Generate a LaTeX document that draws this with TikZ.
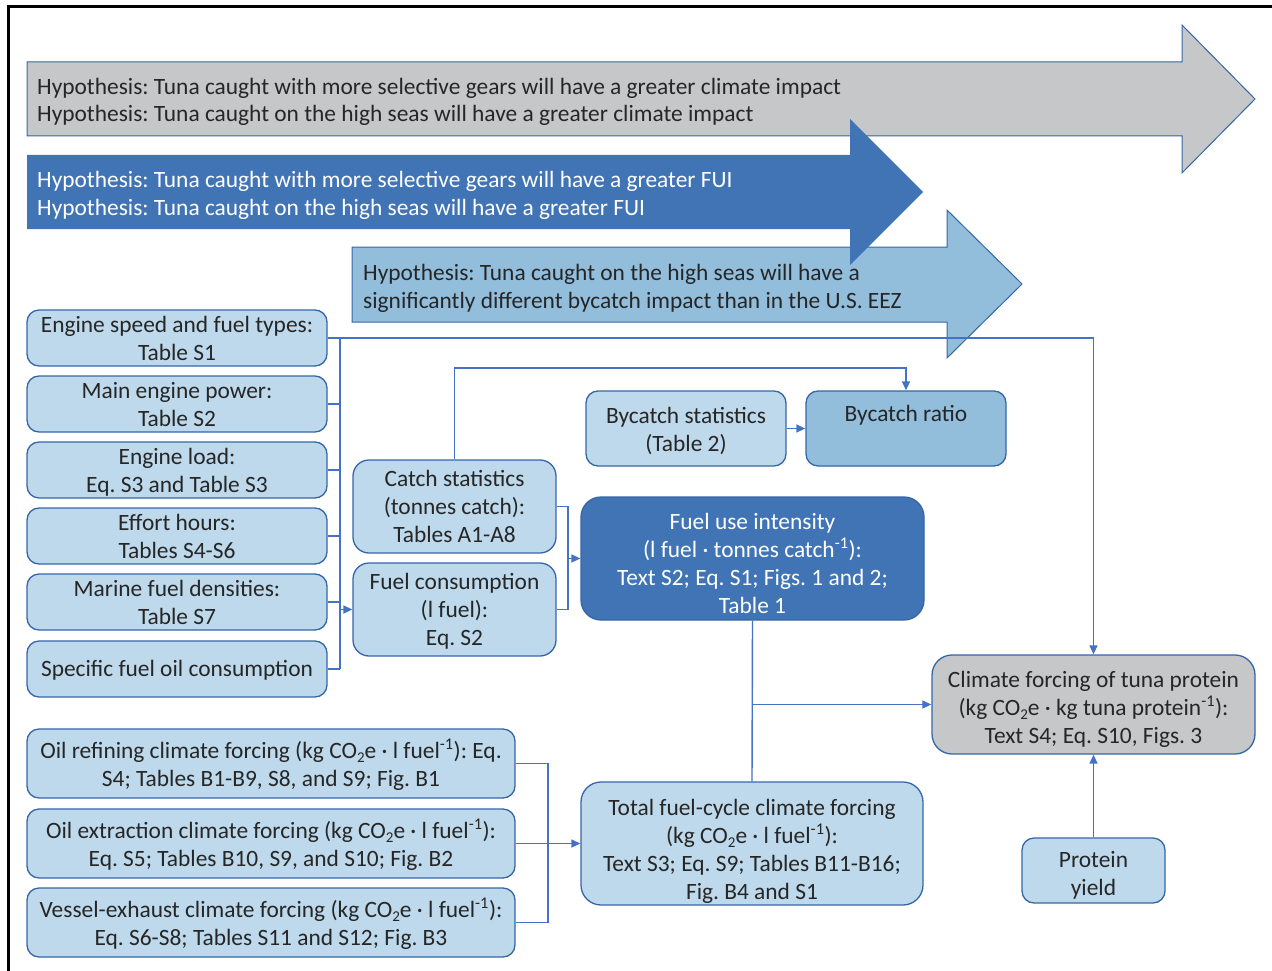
\documentclass[tikz,border=0pt]{standalone}
\usepackage{fontspec}
\setmainfont{Carlito}
\frenchspacing
\usetikzlibrary{arrows.meta,calc}
\definecolor{grayfill}{HTML}{C6C7C9}
\definecolor{darkblue}{HTML}{4174B5}
\definecolor{midblue}{HTML}{92BEDC}
\definecolor{lightfill}{HTML}{BDD9EB}
\definecolor{boxline}{HTML}{3566A8}
\definecolor{connline}{HTML}{4472C4}
\definecolor{txt}{HTML}{262626}
% text with fixed top height (#1) and bottom depth (#2)
\newcommand\sx[3]{\rule{0pt}{#1pt}#3\rule[-#2pt]{0pt}{#2pt}}
\newcommand\co{CO\raisebox{-4pt}{\fontsize{15}{15}\selectfont 2}e}
\tikzset{
  box/.style={draw=boxline, fill=lightfill, rounded corners=12pt, line width=1.3pt,
    align=center, inner sep=0pt, text=txt, font=\fontsize{23.4}{28}\selectfont},
  bigbox/.style={box, rounded corners=20pt},
  conn/.style={draw=connline, line width=1.4pt},
  tip/.style={-{Triangle[length=9pt,width=8pt]}},
  arrowshape/.style={draw=boxline, line width=1pt},
  hyp/.style={anchor=west, align=left, inner sep=0pt, font=\fontsize{23.4}{28}\selectfont}
}
\begin{document}
\begin{tikzpicture}[x=1pt,y=-1pt]
\useasboundingbox (0,0) rectangle (1272,971);
% frame
\draw[line width=3pt] (8,971) -- (8,7) -- (1272,7);

% gray arrow
\filldraw[arrowshape, fill=grayfill] (27,62) -- (1182,62) -- (1182,25) -- (1255,99) -- (1182,173) -- (1182,136) -- (27,136) -- cycle;
\node[hyp, text=txt] (h1) at (37,99.5) {\sx{25}{8}{Hypothesis: Tuna caught with more selective gears will have a greater climate impact\\Hypothesis: Tuna caught on the high seas will have a greater climate impact}};
% light blue arrow
\filldraw[arrowshape, fill=midblue] (352,247) -- (947,247) -- (947,210) -- (1022,284) -- (947,358) -- (947,322) -- (352,322) -- cycle;
\node[hyp, text=txt] (h3) at (363,285.5) {\sx{25}{8}{Hypothesis: Tuna caught on the high seas will have a\\significantly different bycatch impact than in the U.S. EEZ}};
% dark blue arrow
\fill[darkblue] (27,155) -- (850,155) -- (850,119) -- (923,192) -- (850,265) -- (850,229) -- (27,229) -- cycle;
\node[hyp, text=white] (h2) at (37,192.5) {\sx{25}{8}{Hypothesis: Tuna caught with more selective gears will have a greater FUI\\Hypothesis: Tuna caught on the high seas will have a greater FUI}};

% left column
\node[box, minimum width=300pt, minimum height=56pt] (e1) at (177,338) {\sx{22}{5}{Engine speed and fuel types:\\Table S1}};
\node[box, minimum width=300pt, minimum height=56pt] (e2) at (177,404) {\sx{22}{5}{Main engine power:\\Table S2}};
\node[box, minimum width=300pt, minimum height=56pt] (e3) at (177,470) {\sx{22}{5}{Engine load:\\Eq. S3 and Table S3}};
\node[box, minimum width=300pt, minimum height=56pt] (e4) at (177,536) {\sx{22}{5}{Effort hours:\\Tables S4-S6}};
\node[box, minimum width=300pt, minimum height=56pt] (e5) at (177,602) {\sx{22}{5}{Marine fuel densities:\\Table S7}};
\node[box, minimum width=300pt, minimum height=56pt] (e6) at (177,669) {\sx{23}{8}{Specific fuel oil consumption}};

% middle
\node[box, rounded corners=16pt, minimum width=203pt, minimum height=93pt] (catch) at (454.5,506.5) {\sx{24}{8}{Catch statistics\\(tonnes catch):\\Tables A1-A8}};
\node[box, rounded corners=16pt, minimum width=203pt, minimum height=93pt] (fuelc) at (454.5,609.5) {\sx{24}{8}{Fuel consumption\\(l fuel):\\Eq. S2}};
\node[box, minimum width=200pt, minimum height=75pt] (bystat) at (686,428.5) {\sx{25}{8}{Bycatch statistics\\(Table 2)}};
\node[box, fill=midblue, minimum width=200pt, minimum height=75pt] (byratio) at (906,428.5) {\sx{18}{32}{Bycatch ratio}};
\node[bigbox, fill=darkblue, text=white, minimum width=343pt, minimum height=123pt] (fui) at (752.5,558.5) {\sx{32}{6}{Fuel use intensity\\(l fuel · tonnes catch\textsuperscript{-1}):\\Text S2; Eq. S1; Figs. 1 and 2;\\Table 1}};
\node[bigbox, minimum width=342pt, minimum height=123pt] (total) at (752,843.5) {\sx{33.5}{5.5}{Total fuel-cycle climate forcing\\(kg \co{} · l fuel\textsuperscript{-1}):\\Text S3; Eq. S9; Tables B11-B16;\\Fig. B4 and S1}};
\node[bigbox, fill=grayfill, minimum width=323pt, minimum height=99pt] (climate) at (1093.5,704.5) {\sx{30}{8}{Climate forcing of tuna protein\\(kg \co{} · kg tuna protein\textsuperscript{-1}):\\Text S4; Eq. S10, Figs. 3}};
\node[box, minimum width=143pt, minimum height=65pt] (protein) at (1093.5,870.5) {\sx{29}{7}{Protein\\yield}};

% bottom left
\node[box, minimum width=488pt, minimum height=69pt] (oilref) at (271,763.5) {\sx{26}{8}{Oil refining climate forcing (kg \co{} · l fuel\textsuperscript{-1}): Eq.\\S4; Tables B1-B9, S8, and S9; Fig. B1}};
\node[box, minimum width=488pt, minimum height=69pt] (oilext) at (271,843.5) {\sx{26}{8}{Oil extraction climate forcing (kg \co{} · l fuel\textsuperscript{-1}):\\Eq. S5; Tables B10, S9, and S10; Fig. B2}};
\node[box, minimum width=488pt, minimum height=69pt] (vessel) at (271,922.5) {\sx{26}{8}{Vessel-exhaust climate forcing (kg \co{} · l fuel\textsuperscript{-1}):\\Eq. S6-S8; Tables S11 and S12; Fig. B3}};

% connectors
\coordinate (busT) at (340,338);
\coordinate (busB) at (340,669);
\draw[conn] (busT) -- (busB);
\draw[conn, tip] (e1.east) -| (climate.north);
\foreach \n in {e2,e3,e4,e5,e6} \draw[conn] (\n.east) -- (\n.east -| busT);
\draw[conn, tip] (fuelc.west -| busT) -- (fuelc.west);

\coordinate (byc) at (454.5,368);
\draw[conn, tip] (catch.north) -- (byc) -| (byratio.north);
\draw[conn, tip] (bystat.east) -- (byratio.west);

\coordinate (brk) at (568,558.5);
\draw[conn] (catch.east) -- (catch.east -| brk) -- (fuelc.east -| brk) -- (fuelc.east);
\draw[conn, tip] (brk) -- (fui.west);

\draw[conn] (fui.south) -- (total.north);
\coordinate (jn) at (752.5,704.5);
\draw[conn, tip] (jn) -- (climate.west);
\draw[conn, tip] (protein.north) -- (climate.south);

\coordinate (brk2) at (548,843.5);
\draw[conn] (oilref.east) -- (oilref.east -| brk2) -- (vessel.east -| brk2) -- (vessel.east);
\draw[conn, tip] (oilext.east) -- (total.west);
\end{tikzpicture}
\end{document}
